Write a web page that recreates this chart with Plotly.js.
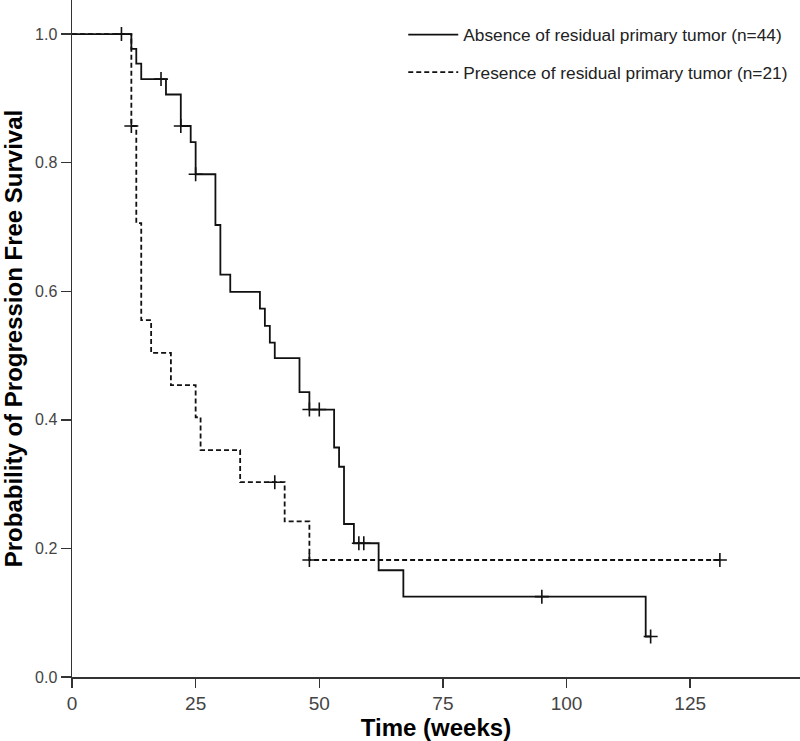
<!DOCTYPE html>
<html>
<head>
<meta charset="utf-8">
<script src="https://cdn.plot.ly/plotly-3.0.1.min.js"></script>
<style>html,body{margin:0;padding:0;background:#fff;}#chart{width:800px;height:741px;}</style>
</head>
<body>
<div id="chart"></div>
<script>
// Absence of residual primary tumor (n=44): step times (weeks) and survival
const absTimes = [0, 12, 13, 14, 19, 22, 24, 25, 29, 30, 32, 38, 39, 40, 41, 46, 48, 53, 54, 55, 57, 62, 67, 116, 117];
const absSurv  = [1.0, 0.977, 0.954, 0.930, 0.906, 0.857, 0.832, 0.782, 0.703, 0.626, 0.599, 0.573, 0.546, 0.520, 0.496, 0.443, 0.416, 0.357, 0.327, 0.238, 0.208, 0.166, 0.125, 0.063, 0.063];
const absCensT = [10, 18, 22, 25, 48, 50, 58, 59, 95, 117];
const absCensS = [1.0, 0.930, 0.857, 0.782, 0.416, 0.416, 0.208, 0.208, 0.125, 0.063];

// Presence of residual primary tumor (n=21)
const presTimes = [0, 12, 13, 14, 16, 20, 25, 26, 34, 43, 48, 131];
const presSurv  = [1.0, 0.857, 0.706, 0.555, 0.504, 0.454, 0.404, 0.353, 0.303, 0.242, 0.182, 0.182];
const presCensT = [12, 41, 48, 131];
const presCensS = [0.857, 0.303, 0.182, 0.182];

const xTicks = [0, 25, 50, 75, 100, 125];
const yTicks = [0.0, 0.2, 0.4, 0.6, 0.8, 1.0];

const ink = '#111';
const traces = [
  {x: absTimes, y: absSurv, type: 'scatter', mode: 'lines', line: {shape: 'hv', color: ink, width: 1.8},
   name: 'Absence of residual primary tumor (n=44)', legendgroup: 'a'},
  {x: presTimes, y: presSurv, type: 'scatter', mode: 'lines', line: {shape: 'hv', color: ink, width: 1.8, dash: '5px,3px'},
   name: 'Presence of residual primary tumor (n=21)', legendgroup: 'p'},
  {x: absCensT, y: absCensS, type: 'scatter', mode: 'markers', showlegend: false, legendgroup: 'a',
   marker: {symbol: 'cross-thin', size: 10, line: {color: ink, width: 1.6}}},
  {x: presCensT, y: presCensS, type: 'scatter', mode: 'markers', showlegend: false, legendgroup: 'p',
   marker: {symbol: 'cross-thin', size: 10, line: {color: ink, width: 1.6}}}
];

const layout = {
  width: 800, height: 741,
  margin: {l: 72, r: 0, t: 0, b: 64},
  paper_bgcolor: '#fff', plot_bgcolor: '#fff',
  font: {family: 'Liberation Sans, Arial, sans-serif', color: '#333', size: 16},
  showlegend: true,
  legend: {x: 0.455, y: 0.975, xanchor: 'left', yanchor: 'top', bgcolor: 'rgba(0,0,0,0)',
           font: {size: 17.3, color: '#222'}, tracegroupgap: 12, itemwidth: 50},
  xaxis: {range: [0, 147.2], tickvals: xTicks, ticktext: xTicks.map(String), showgrid: false, zeroline: false,
          showline: true, linecolor: '#333', linewidth: 1.5, ticks: 'outside', ticklen: 9, tickwidth: 1.5, tickcolor: '#333',
          tickfont: {size: 19, color: '#444', family: 'Liberation Sans Narrow, Liberation Sans, Arial, sans-serif'},
          title: {text: '<b>Time (weeks)</b>', font: {size: 24, color: '#000'}, standoff: 8}},
  yaxis: {range: [0, 1.053], tickvals: yTicks, ticktext: yTicks.map(v => v.toFixed(1)), showgrid: false, zeroline: false,
          showline: true, linecolor: '#333', linewidth: 1.5, ticks: 'outside', ticklen: 10, tickwidth: 1.5, tickcolor: '#333',
          tickfont: {size: 16, color: '#444'},
          title: {text: '<b>Probability of Progression Free Survival</b>', font: {size: 24, color: '#000'}, standoff: 8}}
};

Plotly.newPlot('chart', traces, layout, {displayModeBar: false, staticPlot: true});
</script>
</body>
</html>
